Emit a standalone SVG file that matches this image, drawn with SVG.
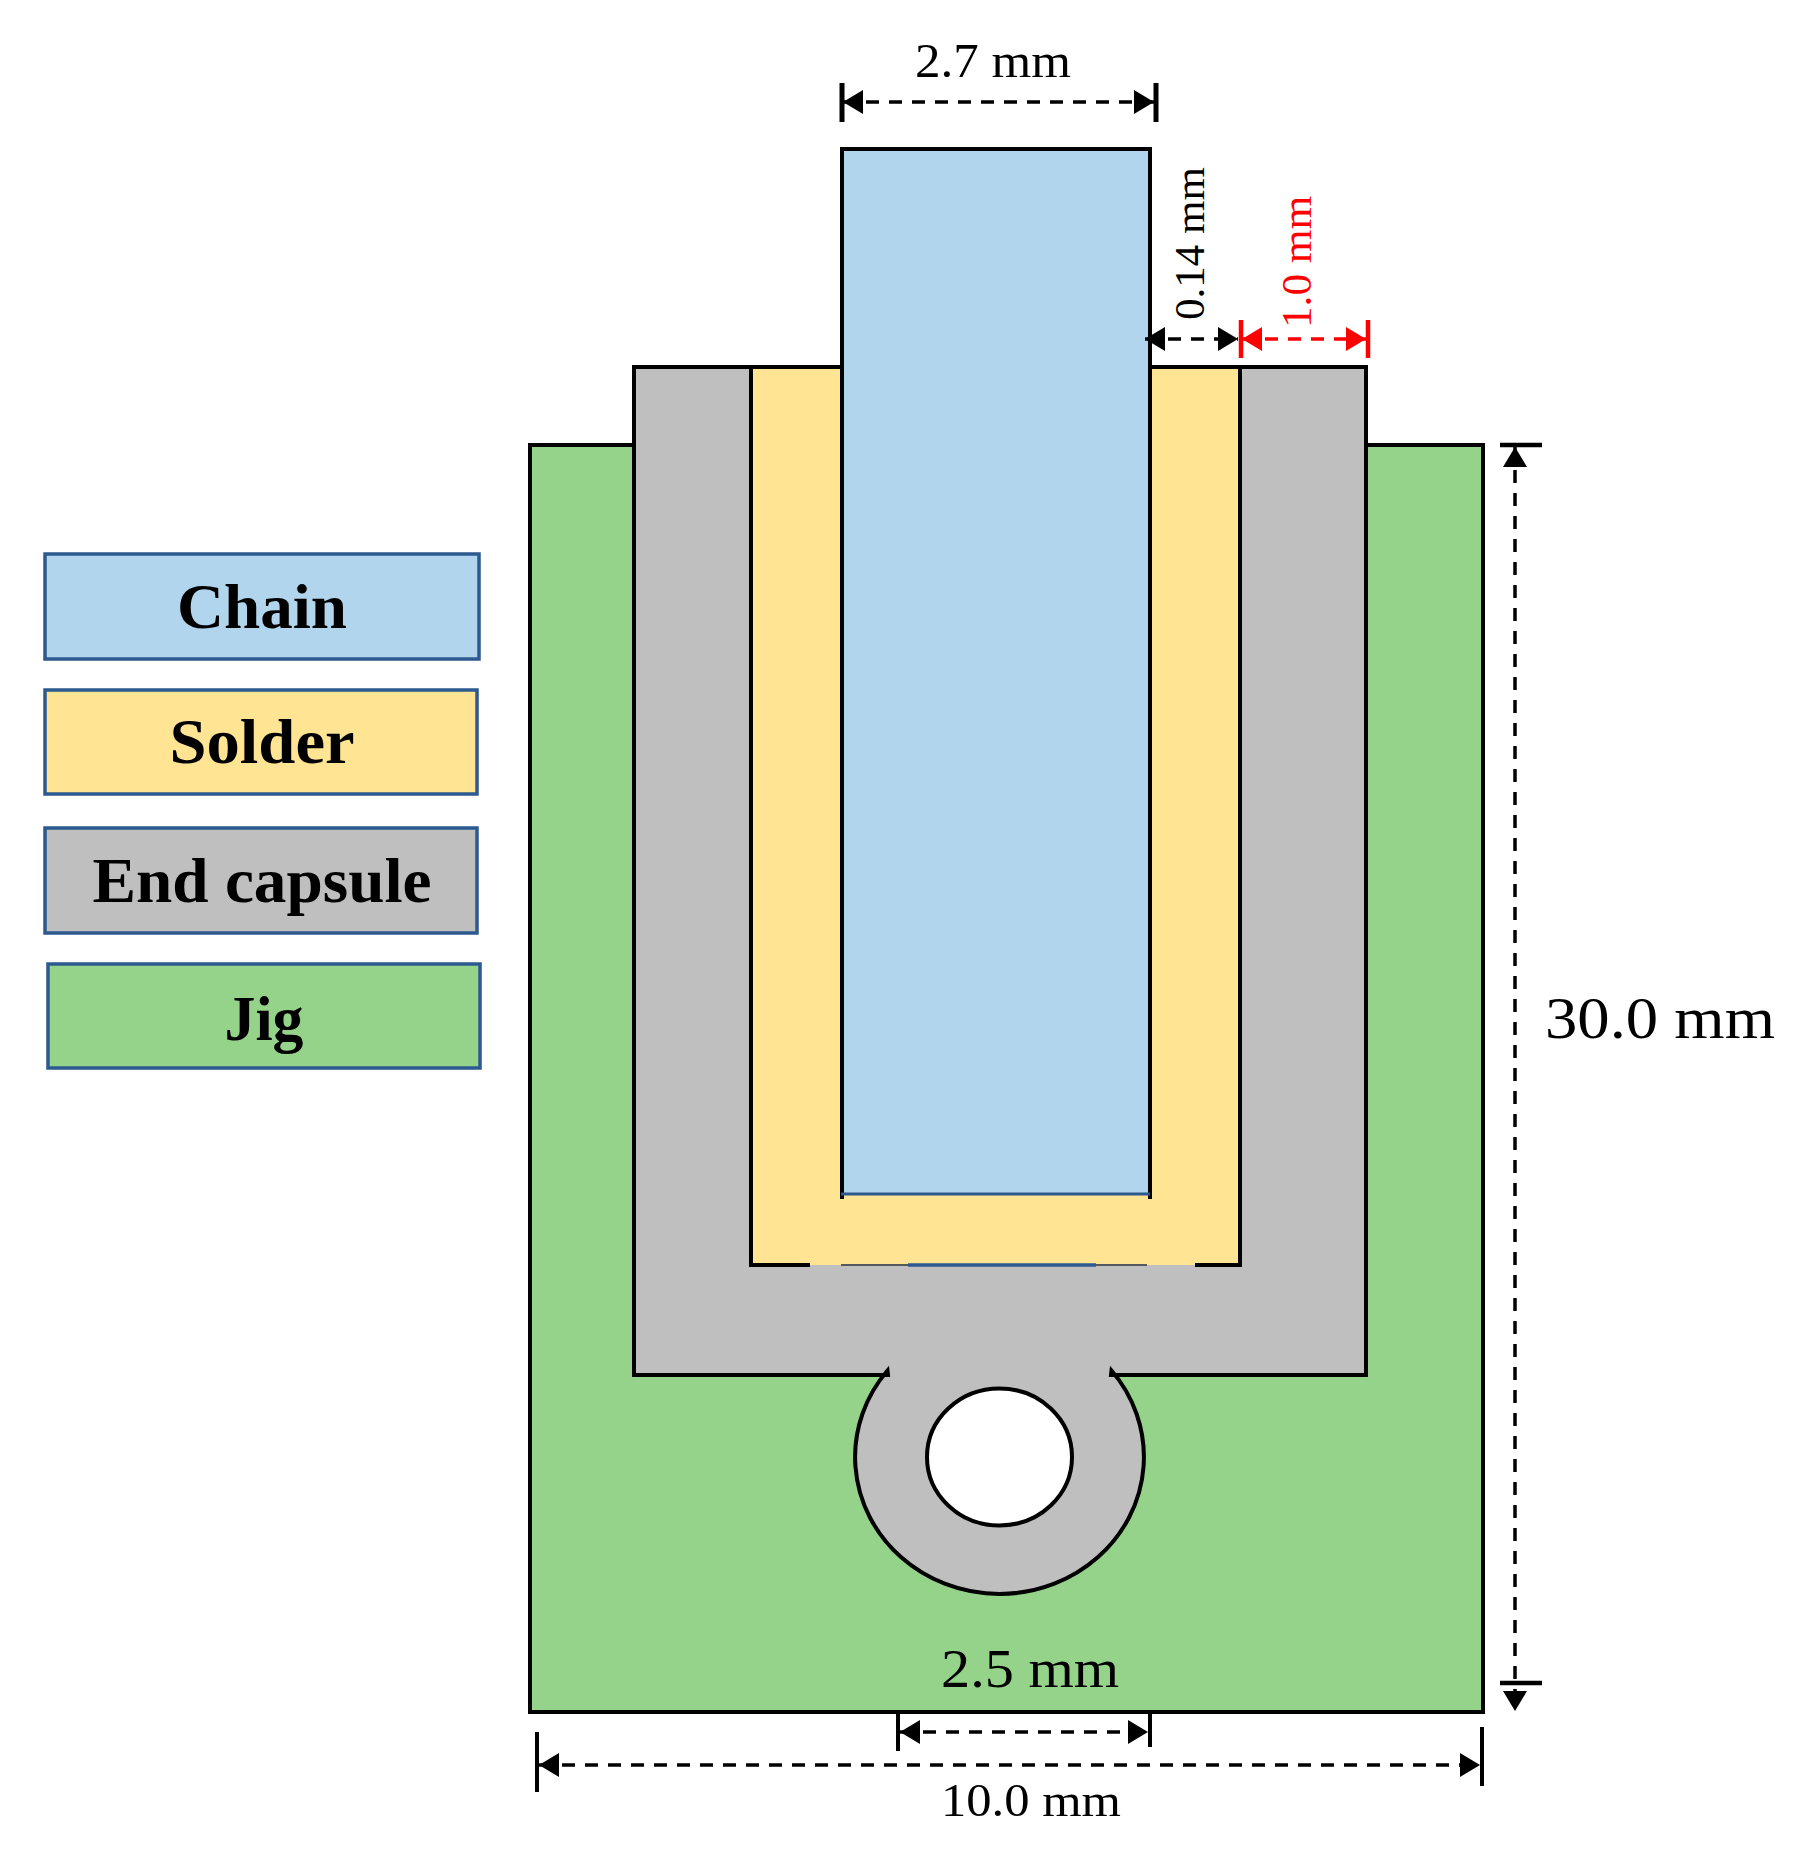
<svg xmlns="http://www.w3.org/2000/svg" width="1794" height="1855" viewBox="0 0 1794 1855">
<style>
.s{stroke:#000;stroke-width:4}
.leg{stroke:#2c5a8e;stroke-width:3.5}
.blue{fill:#b2d5ee}.yellow{fill:#ffe494}.gray{fill:#bfbfbf}.green{fill:#96d38a}
text{font-family:"Liberation Serif","Times New Roman",serif;fill:#000}
.lt{font-weight:700;font-size:64px;text-anchor:middle}
.d{stroke:#000;stroke-width:3.5;stroke-dasharray:13 10;fill:none;marker-start:url(#ah);marker-end:url(#ah)}
.r{stroke:#f00;stroke-width:3.5;stroke-dasharray:13 10;fill:none;marker-start:url(#ahr);marker-end:url(#ahr)}
.t{stroke:#000;stroke-width:4;fill:none}
.tr{stroke:#f00;stroke-width:4.5;fill:none}
</style>
<defs>
<marker id="ah" markerUnits="userSpaceOnUse" markerWidth="22" markerHeight="26" refX="20" refY="13" orient="auto-start-reverse"><path d="M0 1L20 13L0 25Z" fill="#000"/></marker>
<marker id="ahr" markerUnits="userSpaceOnUse" markerWidth="22" markerHeight="26" refX="20" refY="13" orient="auto-start-reverse"><path d="M0 1L20 13L0 25Z" fill="#f00"/></marker>
</defs>
<rect width="1794" height="1855" fill="#fff"/>
<g id="jig"><rect class="green s" x="530" y="445" width="953" height="1267"/></g>
<g id="end-capsule">
<path class="gray s" d="M634 367H1366V1375H1111L1111.5 1370.5A144.4 137 0 1 1 887.5 1370.5L888 1375H634Z"/>
<ellipse cx="999.5" cy="1457" rx="72.5" ry="68.5" fill="#fff" class="s"/>
</g>
<g id="solder">
<rect class="yellow" x="751" y="367" width="489" height="898"/>
<path class="s" fill="none" d="M841 367H751V1265H810M1195 1265H1240V367H1150"/>
<path fill="none" stroke="#55595e" stroke-width="2" d="M841 1265H908M1096 1265H1147"/>
<path fill="none" stroke="#2c5a8e" stroke-width="3.5" d="M908 1265H1096"/>
</g>
<g id="chain">
<path class="blue" d="M841 148H1150V1194H841Z"/>
<path class="s" fill="none" d="M842 1199V149H1150V1199"/>
<path fill="none" stroke="#2c5a8e" stroke-width="3" d="M841 1194H1150"/>
</g>
<g id="legend-chain"><rect class="blue leg" x="45" y="554" width="434" height="105"/><text class="lt" x="262" y="628" textLength="170" lengthAdjust="spacingAndGlyphs">Chain</text></g>
<g id="legend-solder"><rect class="yellow leg" x="45" y="690" width="432" height="104"/><text class="lt" x="262" y="763" textLength="185" lengthAdjust="spacingAndGlyphs">Solder</text></g>
<g id="legend-end-capsule"><rect class="gray leg" x="45" y="828" width="432" height="105"/><text class="lt" x="262" y="902" textLength="339" lengthAdjust="spacingAndGlyphs">End capsule</text></g>
<g id="legend-jig"><rect class="green leg" x="48" y="964" width="432" height="104"/><text class="lt" x="264" y="1040" textLength="79" lengthAdjust="spacingAndGlyphs">Jig</text></g>
<g id="connectors">
<path class="d" d="M843 102H1154"/>
<path class="t" d="M842 83V122M1156 83V122" style="stroke-width:5"/>
<path class="d" d="M1145 339H1238"/>
<path class="r" d="M1242 339H1366"/>
<path class="tr" d="M1241 320V358M1368 320V358"/>
<path class="d" d="M1515 447V1711"/>
<path class="t" d="M1500 445H1542M1500 1683H1542" style="stroke-width:4.5"/>
<path class="d" d="M900 1732H1148"/>
<path class="t" d="M898 1713V1751M1150 1710V1747"/>
<path class="d" d="M539 1765H1480"/>
<path class="t" d="M537 1732V1792M1482 1727V1786"/>
</g>
<g id="labels">
<text x="915" y="77" font-size="48" textLength="156" lengthAdjust="spacingAndGlyphs">2.7 mm</text>
<text transform="translate(1204 320) rotate(-90)" font-size="43" textLength="153" lengthAdjust="spacingAndGlyphs">0.14 mm</text>
<text transform="translate(1311 328) rotate(-90)" font-size="43" style="fill:#f00" textLength="132" lengthAdjust="spacingAndGlyphs">1.0 mm</text>
<text x="1545" y="1038" font-size="60" textLength="230" lengthAdjust="spacingAndGlyphs">30.0 mm</text>
<text x="941" y="1687" font-size="55" textLength="178" lengthAdjust="spacingAndGlyphs">2.5 mm</text>
<text x="941" y="1816" font-size="47" textLength="180" lengthAdjust="spacingAndGlyphs">10.0 mm</text>
</g>
</svg>
